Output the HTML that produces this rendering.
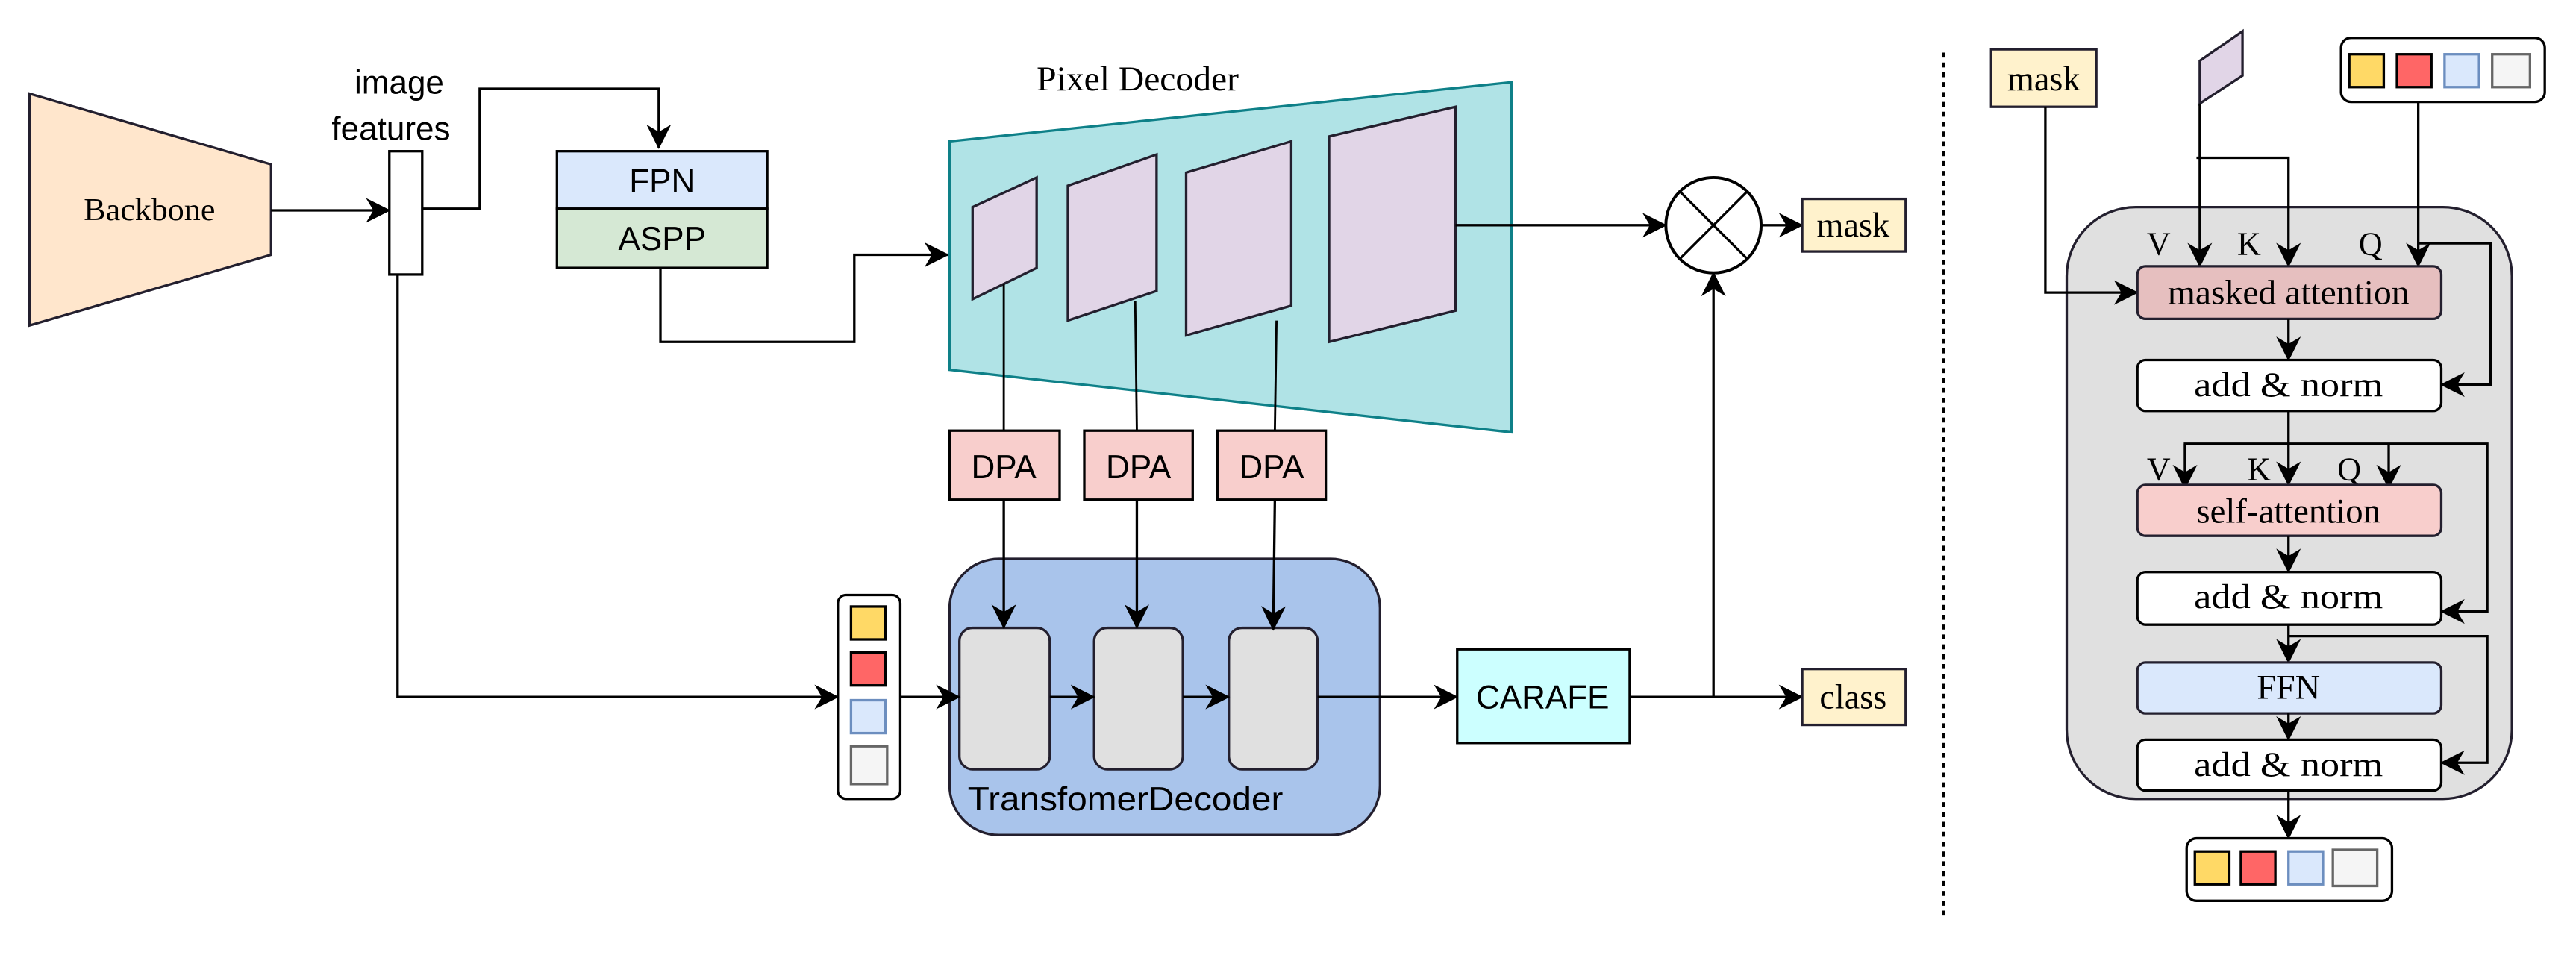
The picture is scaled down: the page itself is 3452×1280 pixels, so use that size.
<!DOCTYPE html>
<html><head><meta charset="utf-8"><style>html,body{margin:0;padding:0;background:#fff}svg{display:block}</style></head><body>
<svg xmlns="http://www.w3.org/2000/svg" width="3452" height="1280" viewBox="0 0 1568 581" preserveAspectRatio="none">
<defs>
<marker id="a" viewBox="0 0 10 10" refX="9.5" refY="5" markerWidth="12" markerHeight="12" markerUnits="userSpaceOnUse" orient="auto"><path d="M0,0 L10,5 L0,10 L3,5 z" fill="#000"/></marker>
<marker id="b" viewBox="0 0 10 10" refX="9.5" refY="5" markerWidth="15" markerHeight="15" markerUnits="userSpaceOnUse" orient="auto"><path d="M0,0 L10,5 L0,10 L3,5 z" fill="#000"/></marker>
</defs>
<g font-family="Liberation Sans, sans-serif">
<polygon points="18,57 165,100 165,155 18,198" fill="#ffe6cc" stroke="#231f2e" stroke-width="1.5"/>
<text x="91" y="134" font-family="Liberation Serif, serif" font-size="19" text-anchor="middle" textLength="80" lengthAdjust="spacingAndGlyphs">Backbone</text>
<line x1="165" y1="128" x2="237" y2="128" stroke="#000" stroke-width="1.5" marker-end="url(#b)"/>
<text x="243" y="57" font-size="20" text-anchor="middle">image</text>
<text x="238" y="85" font-size="20" text-anchor="middle">features</text>
<rect x="237" y="92" width="20" height="75" fill="#fff" stroke="#000" stroke-width="1.5"/>
<polyline points="257,127 292,127 292,54 401,54 401,90" fill="none" stroke="#000" stroke-width="1.5" marker-end="url(#b)"/>
<rect x="339" y="92" width="128" height="35" fill="#dae8fc" stroke="#000" stroke-width="1.5"/>
<rect x="339" y="127" width="128" height="36" fill="#d5e8d4" stroke="#000" stroke-width="1.5"/>
<text x="403" y="117" font-size="20" text-anchor="middle">FPN</text>
<text x="403" y="152" font-size="20" text-anchor="middle">ASPP</text>
<polyline points="402,163 402,208 520,208 520,155 577,155" fill="none" stroke="#000" stroke-width="1.5" marker-end="url(#b)"/>
<text x="631" y="55" font-family="Liberation Serif, serif" font-size="21" textLength="123" lengthAdjust="spacingAndGlyphs">Pixel Decoder</text>
<polygon points="578,86 920,50 920,263 578,225" fill="#b0e3e6" stroke="#0e8088" stroke-width="1.5"/>
<polygon points="592,126 631,108 631,163 592,182" fill="#e1d5e7" stroke="#231f2e" stroke-width="1.5"/>
<polygon points="650,113 704,94 704,177 650,195" fill="#e1d5e7" stroke="#231f2e" stroke-width="1.5"/>
<polygon points="722,105 786,86 786,186 722,204" fill="#e1d5e7" stroke="#231f2e" stroke-width="1.5"/>
<polygon points="809,83 886,65 886,189 809,208" fill="#e1d5e7" stroke="#231f2e" stroke-width="1.5"/>
<line x1="611" y1="173" x2="611" y2="262" stroke="#000" stroke-width="1.3"/>
<line x1="691" y1="183" x2="692" y2="262" stroke="#000" stroke-width="1.3"/>
<line x1="777" y1="195" x2="776" y2="262" stroke="#000" stroke-width="1.3"/>
<line x1="886" y1="137" x2="1014" y2="137" stroke="#000" stroke-width="1.5" marker-end="url(#b)"/>
<circle cx="1043" cy="137" r="29" fill="#fff" stroke="#000" stroke-width="1.8"/>
<line x1="1023" y1="117" x2="1063" y2="157" stroke="#000" stroke-width="1.5"/>
<line x1="1063" y1="117" x2="1023" y2="157" stroke="#000" stroke-width="1.5"/>
<line x1="1072" y1="137" x2="1097" y2="137" stroke="#000" stroke-width="1.5" marker-end="url(#b)"/>
<rect x="1097" y="121" width="63" height="32" fill="#fff2cc" stroke="#231f2e" stroke-width="1.5"/>
<text x="1128" y="144" font-family="Liberation Serif, serif" font-size="21" text-anchor="middle">mask</text>
<rect x="578" y="262" width="67" height="42" fill="#f8cecc" stroke="#000" stroke-width="1.5"/>
<rect x="660" y="262" width="66" height="42" fill="#f8cecc" stroke="#000" stroke-width="1.5"/>
<rect x="741" y="262" width="66" height="42" fill="#f8cecc" stroke="#000" stroke-width="1.5"/>
<text x="611" y="291" font-size="20" text-anchor="middle">DPA</text>
<text x="693" y="291" font-size="20" text-anchor="middle">DPA</text>
<text x="774" y="291" font-size="20" text-anchor="middle">DPA</text>
<rect x="578" y="340" width="262" height="168" rx="30" fill="#a9c4eb" stroke="#231f2e" stroke-width="1.5"/>
<rect x="584" y="382" width="55" height="86" rx="8" fill="#e0e0e0" stroke="#231f2e" stroke-width="1.5"/>
<rect x="666" y="382" width="54" height="86" rx="8" fill="#e0e0e0" stroke="#231f2e" stroke-width="1.5"/>
<rect x="748" y="382" width="54" height="86" rx="8" fill="#e0e0e0" stroke="#231f2e" stroke-width="1.5"/>
<text x="589" y="493" font-size="20" textLength="192" lengthAdjust="spacingAndGlyphs">TransfomerDecoder</text>
<line x1="611" y1="304" x2="611" y2="382" stroke="#000" stroke-width="1.5" marker-end="url(#b)"/>
<line x1="692" y1="304" x2="692" y2="382" stroke="#000" stroke-width="1.5" marker-end="url(#b)"/>
<line x1="776" y1="304" x2="775" y2="383" stroke="#000" stroke-width="1.5" marker-end="url(#b)"/>
<line x1="639" y1="424" x2="666" y2="424" stroke="#000" stroke-width="1.5" marker-end="url(#b)"/>
<line x1="720" y1="424" x2="748" y2="424" stroke="#000" stroke-width="1.5" marker-end="url(#b)"/>
<line x1="548" y1="424" x2="584" y2="424" stroke="#000" stroke-width="1.5" marker-end="url(#b)"/>
<polyline points="242,167 242,424 510,424" fill="none" stroke="#000" stroke-width="1.5" marker-end="url(#b)"/>
<rect x="510" y="362" width="38" height="124" rx="5" fill="#fff" stroke="#000" stroke-width="1.5"/>
<rect x="518" y="369" width="21" height="20" fill="#ffd966" stroke="#000" stroke-width="1.5"/>
<rect x="518" y="397" width="21" height="20" fill="#ff6666" stroke="#000" stroke-width="1.5"/>
<rect x="518" y="426" width="21" height="20" fill="#dae8fc" stroke="#6c8ebf" stroke-width="1.5"/>
<rect x="518" y="454" width="22" height="23" fill="#f5f5f5" stroke="#666" stroke-width="1.5"/>
<line x1="802" y1="424" x2="887" y2="424" stroke="#000" stroke-width="1.5" marker-end="url(#b)"/>
<rect x="887" y="395" width="105" height="57" fill="#ccffff" stroke="#000" stroke-width="1.5"/>
<text x="939" y="431" font-size="20" text-anchor="middle">CARAFE</text>
<line x1="992" y1="424" x2="1097" y2="424" stroke="#000" stroke-width="1.5" marker-end="url(#b)"/>
<line x1="1043" y1="424" x2="1043" y2="166" stroke="#000" stroke-width="1.5" marker-end="url(#b)"/>
<rect x="1097" y="407" width="63" height="34" fill="#fff2cc" stroke="#231f2e" stroke-width="1.5"/>
<text x="1128" y="431" font-family="Liberation Serif, serif" font-size="21" text-anchor="middle">class</text>
<line x1="1183" y1="32" x2="1183" y2="560" stroke="#000" stroke-width="1.8" stroke-dasharray="3,3"/>
<g font-family="Liberation Serif, serif">
<rect x="1212" y="30" width="64" height="35" fill="#fff2cc" stroke="#231f2e" stroke-width="1.5"/>
<text x="1244" y="55" font-size="21" text-anchor="middle">mask</text>
<polygon points="1339,37 1365,19 1365,46 1339,63" fill="#e1d5e7" stroke="#231f2e" stroke-width="1.5"/>
<rect x="1425" y="23" width="124" height="39" rx="6" fill="#fff" stroke="#000" stroke-width="1.5"/>
<rect x="1430" y="33" width="21" height="20" fill="#ffd966" stroke="#000" stroke-width="1.5"/>
<rect x="1459" y="33" width="21" height="20" fill="#ff6666" stroke="#000" stroke-width="1.5"/>
<rect x="1488" y="33" width="21" height="20" fill="#dae8fc" stroke="#6c8ebf" stroke-width="1.5"/>
<rect x="1517" y="33" width="23" height="20" fill="#f5f5f5" stroke="#666" stroke-width="1.5"/>
<rect x="1258" y="126" width="271" height="360" rx="42" fill="#e0e0e0" stroke="#231f2e" stroke-width="1.5"/>
<polyline points="1245,65 1245,178 1301,178" fill="none" stroke="#000" stroke-width="1.5" marker-end="url(#b)"/>
<line x1="1339" y1="63" x2="1339" y2="162" stroke="#000" stroke-width="1.5" marker-end="url(#b)"/>
<polyline points="1337,96 1393,96 1393,162" fill="none" stroke="#000" stroke-width="1.5" marker-end="url(#b)"/>
<line x1="1472" y1="62" x2="1472" y2="162" stroke="#000" stroke-width="1.5" marker-end="url(#b)"/>
<polyline points="1472,148 1516,148 1516,234 1486,234" fill="none" stroke="#000" stroke-width="1.5" marker-end="url(#b)"/>
<text x="1314" y="155" font-size="20" text-anchor="middle">V</text>
<text x="1369" y="155" font-size="20" text-anchor="middle">K</text>
<text x="1443" y="155" font-size="20" text-anchor="middle">Q</text>
<rect x="1301" y="162" width="185" height="32" rx="5" fill="#e6bfbf" stroke="#231f2e" stroke-width="1.5"/>
<text x="1393" y="185" font-size="21" text-anchor="middle" textLength="147" lengthAdjust="spacingAndGlyphs">masked attention</text>
<line x1="1393" y1="194" x2="1393" y2="219" stroke="#000" stroke-width="1.5" marker-end="url(#b)"/>
<rect x="1301" y="219" width="185" height="31" rx="5" fill="#fff" stroke="#000" stroke-width="1.5"/>
<text x="1393" y="241" font-size="21" text-anchor="middle" textLength="115" lengthAdjust="spacingAndGlyphs">add &amp; norm</text>
<line x1="1393" y1="250" x2="1393" y2="295" stroke="#000" stroke-width="1.5" marker-end="url(#b)"/>
<polyline points="1330,295 1330,270 1514,270 1514,372 1486,372" fill="none" stroke="#000" stroke-width="1.5" marker-end="url(#b)"/>
<line x1="1330" y1="270" x2="1330" y2="297" stroke="#000" stroke-width="1.5" marker-end="url(#b)"/>
<line x1="1454" y1="270" x2="1454" y2="297" stroke="#000" stroke-width="1.5" marker-end="url(#b)"/>
<text x="1314" y="292" font-size="20" text-anchor="middle">V</text>
<text x="1375" y="292" font-size="20" text-anchor="middle">K</text>
<text x="1430" y="292" font-size="20" text-anchor="middle">Q</text>
<rect x="1301" y="295" width="185" height="31" rx="5" fill="#f8cecc" stroke="#231f2e" stroke-width="1.5"/>
<text x="1393" y="318" font-size="21" text-anchor="middle" textLength="112" lengthAdjust="spacingAndGlyphs">self-attention</text>
<line x1="1393" y1="326" x2="1393" y2="348" stroke="#000" stroke-width="1.5" marker-end="url(#b)"/>
<rect x="1301" y="348" width="185" height="32" rx="5" fill="#fff" stroke="#000" stroke-width="1.5"/>
<text x="1393" y="370" font-size="21" text-anchor="middle" textLength="115" lengthAdjust="spacingAndGlyphs">add &amp; norm</text>
<line x1="1393" y1="380" x2="1393" y2="403" stroke="#000" stroke-width="1.5" marker-end="url(#b)"/>
<polyline points="1393,387 1514,387 1514,464 1486,464" fill="none" stroke="#000" stroke-width="1.5" marker-end="url(#b)"/>
<rect x="1301" y="403" width="185" height="31" rx="5" fill="#dae8fc" stroke="#231f2e" stroke-width="1.5"/>
<text x="1393" y="425" font-size="21" text-anchor="middle">FFN</text>
<line x1="1393" y1="434" x2="1393" y2="450" stroke="#000" stroke-width="1.5" marker-end="url(#b)"/>
<rect x="1301" y="450" width="185" height="31" rx="5" fill="#fff" stroke="#000" stroke-width="1.5"/>
<text x="1393" y="472" font-size="21" text-anchor="middle" textLength="115" lengthAdjust="spacingAndGlyphs">add &amp; norm</text>
<line x1="1393" y1="481" x2="1393" y2="510" stroke="#000" stroke-width="1.5" marker-end="url(#b)"/>
<rect x="1331" y="510" width="125" height="38" rx="6" fill="#fff" stroke="#000" stroke-width="1.5"/>
<rect x="1336" y="518" width="21" height="20" fill="#ffd966" stroke="#000" stroke-width="1.5"/>
<rect x="1364" y="518" width="21" height="20" fill="#ff6666" stroke="#000" stroke-width="1.5"/>
<rect x="1393" y="518" width="21" height="20" fill="#dae8fc" stroke="#6c8ebf" stroke-width="1.5"/>
<rect x="1420" y="517" width="27" height="22" fill="#f5f5f5" stroke="#666" stroke-width="1.5"/>
</g>
</g>
</svg>
</body></html>
